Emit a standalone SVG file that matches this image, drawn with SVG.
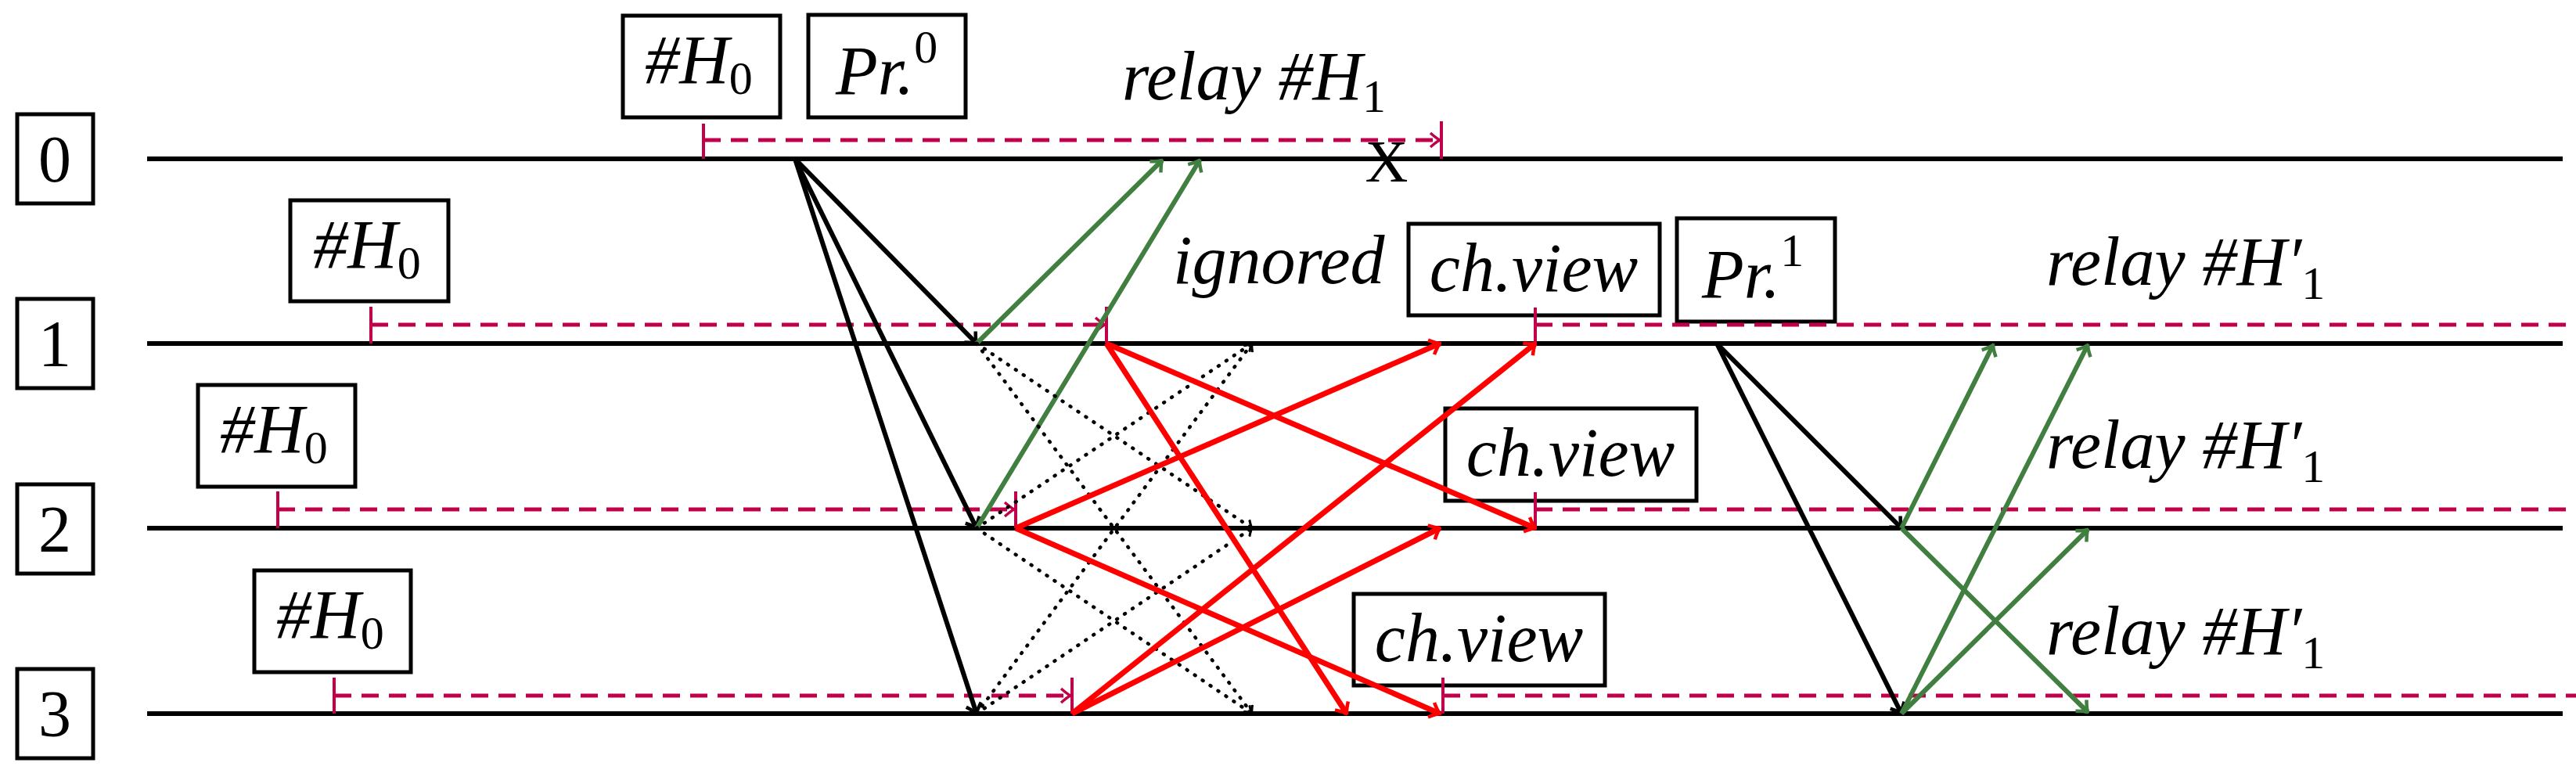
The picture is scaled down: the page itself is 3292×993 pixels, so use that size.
<svg xmlns="http://www.w3.org/2000/svg" width="3292" height="993" viewBox="0 0 3292 993">
<style>
.t{font-family:"Liberation Serif",serif;font-style:italic;font-size:88px;fill:#000}
.s{font-style:normal;font-size:60px}
.n{font-family:"Liberation Serif",serif;font-size:84px;fill:#000;text-anchor:middle}
.c{text-anchor:middle}
.box{fill:#fff;stroke:#000;stroke-width:5}
.line{stroke:#000;stroke-width:6}
.blk{stroke:#000;stroke-width:6;fill:none;marker-end:url(#ak)}
.grn{stroke:#407f40;stroke-width:6;fill:none;marker-end:url(#ag)}
.red{stroke:#ff0000;stroke-width:7;fill:none;marker-end:url(#ar)}
.dot{stroke:#000;stroke-width:4.5;stroke-dasharray:1 11;stroke-linecap:round;fill:none;marker-end:url(#ad)}
.dash{stroke:#c0004a;stroke-width:5;stroke-dasharray:22 13;fill:none}
.tick{stroke:#c0004a;stroke-width:4}
</style>
<defs>
<marker id="ak" viewBox="-14 -12 16 24" markerWidth="16" markerHeight="24" refX="0" refY="0" orient="auto" markerUnits="userSpaceOnUse"><path d="M-12,-10 Q-4,-2 0,0 Q-4,2 -12,10" fill="none" stroke="#000" stroke-width="4.5"/></marker>
<marker id="ag" viewBox="-14 -12 16 24" markerWidth="16" markerHeight="24" refX="0" refY="0" orient="auto" markerUnits="userSpaceOnUse"><path d="M-12,-10 Q-4,-2 0,0 Q-4,2 -12,10" fill="none" stroke="#407f40" stroke-width="4.5"/></marker>
<marker id="ar" viewBox="-14 -12 16 24" markerWidth="16" markerHeight="24" refX="0" refY="0" orient="auto" markerUnits="userSpaceOnUse"><path d="M-12,-10 Q-4,-2 0,0 Q-4,2 -12,10" fill="none" stroke="#ff0000" stroke-width="4.5"/></marker>
<marker id="ad" viewBox="-12 -10 14 20" markerWidth="11" markerHeight="16" refX="0" refY="0" orient="auto" markerUnits="userSpaceOnUse"><path d="M-11,-9 Q-4,-2 0,0 Q-4,2 -11,9" fill="none" stroke="#000" stroke-width="4"/></marker>
<marker id="am" viewBox="-14 -12 16 24" markerWidth="16" markerHeight="24" refX="0" refY="0" orient="auto" markerUnits="userSpaceOnUse"><path d="M-12,-9 Q-4,-2 0,0 Q-4,2 -12,9" fill="none" stroke="#c0004a" stroke-width="3.5"/></marker>
</defs>

<g id="timelines">
<line class="line" x1="188" y1="203" x2="3275" y2="203"/>
<line class="line" x1="188" y1="439" x2="3275" y2="439"/>
<line class="line" x1="188" y1="675" x2="3275" y2="675"/>
<line class="line" x1="188" y1="912" x2="3275" y2="912"/>
</g>

<g id="node0"><rect class="box" x="22" y="146" width="97" height="114"/><text class="n" x="70" y="232">0</text></g>
<g id="node1"><rect class="box" x="22" y="382" width="97" height="114"/><text class="n" x="70" y="468">1</text></g>
<g id="node2"><rect class="box" x="22" y="619" width="97" height="114"/><text class="n" x="70" y="705">2</text></g>
<g id="node3"><rect class="box" x="22" y="855" width="97" height="114"/><text class="n" x="70" y="941">3</text></g>

<g id="h0-top"><rect class="box" x="796" y="20" width="201" height="130"/><text class="t c" x="893" y="106">#H<tspan class="s" dy="14">0</tspan></text></g>
<g id="pr0"><rect class="box" x="1033" y="19" width="201" height="131"/><text class="t c" x="1133" y="120">Pr.<tspan class="s" dy="-40">0</tspan></text></g>
<g id="h0-1"><rect class="box" x="371" y="256" width="202" height="129"/><text class="t c" x="469" y="342">#H<tspan class="s" dy="14">0</tspan></text></g>
<g id="h0-2"><rect class="box" x="253" y="492" width="201" height="130"/><text class="t c" x="350" y="578">#H<tspan class="s" dy="14">0</tspan></text></g>
<g id="h0-3"><rect class="box" x="325" y="729" width="200" height="130"/><text class="t c" x="422" y="815">#H<tspan class="s" dy="14">0</tspan></text></g>
<g id="chview1"><rect class="box" x="1800" y="286" width="321" height="117"/><text class="t c" x="1960" y="372">ch.view</text></g>
<g id="chview2"><rect class="box" x="1847" y="522" width="321" height="118"/><text class="t c" x="2007" y="608">ch.view</text></g>
<g id="chview3"><rect class="box" x="1730" y="759" width="321" height="117"/><text class="t c" x="1890" y="845">ch.view</text></g>
<g id="pr1"><rect class="box" x="2143" y="279" width="202" height="132"/><text class="t c" x="2240" y="380">Pr.<tspan class="s" dy="-40">1</tspan></text></g>

<g id="labels">
<text class="t" x="1434" y="127">relay #H<tspan class="s" dy="16">1</tspan></text>
<text class="t" x="1499" y="362">ignored</text>
<text class="t" x="2615" y="364">relay #H′<tspan class="s" dy="18">1</tspan></text>
<text class="t" x="2615" y="598">relay #H′<tspan class="s" dy="18">1</tspan></text>
<text class="t" x="2615" y="836">relay #H′<tspan class="s" dy="18">1</tspan></text>
<text x="1772" y="232" font-family="Liberation Serif,serif" font-size="76" text-anchor="middle">X</text>
</g>

<g id="connectors">
<line class="tick" x1="899" y1="158" x2="899" y2="203"/>
<line class="dash" x1="899" y1="179" x2="1840" y2="179" marker-end="url(#am)"/>
<line class="tick" x1="1842" y1="155" x2="1842" y2="203"/>
<line class="tick" x1="474" y1="392" x2="474" y2="439"/>
<line class="dash" x1="474" y1="415" x2="1412" y2="415" marker-end="url(#am)"/>
<line class="tick" x1="1414" y1="392" x2="1414" y2="439"/>
<line class="tick" x1="355" y1="628" x2="355" y2="675"/>
<line class="dash" x1="355" y1="651" x2="1296" y2="651" marker-end="url(#am)"/>
<line class="tick" x1="1298" y1="628" x2="1298" y2="675"/>
<line class="tick" x1="427" y1="866" x2="427" y2="912"/>
<line class="dash" x1="427" y1="889" x2="1368" y2="889" marker-end="url(#am)"/>
<line class="tick" x1="1370" y1="866" x2="1370" y2="912"/>
<line class="tick" x1="1962" y1="393" x2="1962" y2="439"/>
<line class="dash" x1="1962" y1="415" x2="3292" y2="415"/>
<line class="tick" x1="1962" y1="629" x2="1962" y2="675"/>
<line class="dash" x1="1962" y1="651" x2="3292" y2="651"/>
<line class="tick" x1="1844" y1="866" x2="1844" y2="912"/>
<line class="dash" x1="1844" y1="889" x2="3292" y2="889"/>

<line class="blk" x1="1016" y1="203" x2="1248" y2="439"/>
<line class="blk" x1="1016" y1="203" x2="1248" y2="675"/>
<line class="blk" x1="1016" y1="203" x2="1248" y2="912"/>
<line class="grn" x1="1248" y1="439" x2="1485" y2="205"/>
<line class="grn" x1="1248" y1="675" x2="1533" y2="205"/>
<line class="dot" x1="1248" y1="439" x2="1600" y2="675"/>
<line class="dot" x1="1248" y1="439" x2="1600" y2="912"/>
<line class="dot" x1="1248" y1="675" x2="1600" y2="439"/>
<line class="dot" x1="1248" y1="675" x2="1600" y2="912"/>
<line class="dot" x1="1248" y1="912" x2="1600" y2="439"/>
<line class="dot" x1="1248" y1="912" x2="1600" y2="675"/>
<line class="red" x1="1414" y1="439" x2="1962" y2="675"/>
<line class="red" x1="1414" y1="439" x2="1721" y2="912"/>
<line class="red" x1="1298" y1="675" x2="1840" y2="439"/>
<line class="red" x1="1298" y1="675" x2="1840" y2="912"/>
<line class="red" x1="1370" y1="912" x2="1962" y2="439"/>
<line class="red" x1="1370" y1="912" x2="1840" y2="675"/>
<line class="blk" x1="2194" y1="439" x2="2430" y2="675"/>
<line class="blk" x1="2194" y1="439" x2="2430" y2="912"/>
<line class="grn" x1="2430" y1="675" x2="2547" y2="441"/>
<line class="grn" x1="2430" y1="675" x2="2668" y2="910"/>
<line class="grn" x1="2430" y1="912" x2="2668" y2="441"/>
<line class="grn" x1="2430" y1="912" x2="2668" y2="677"/>
</g>
</svg>
